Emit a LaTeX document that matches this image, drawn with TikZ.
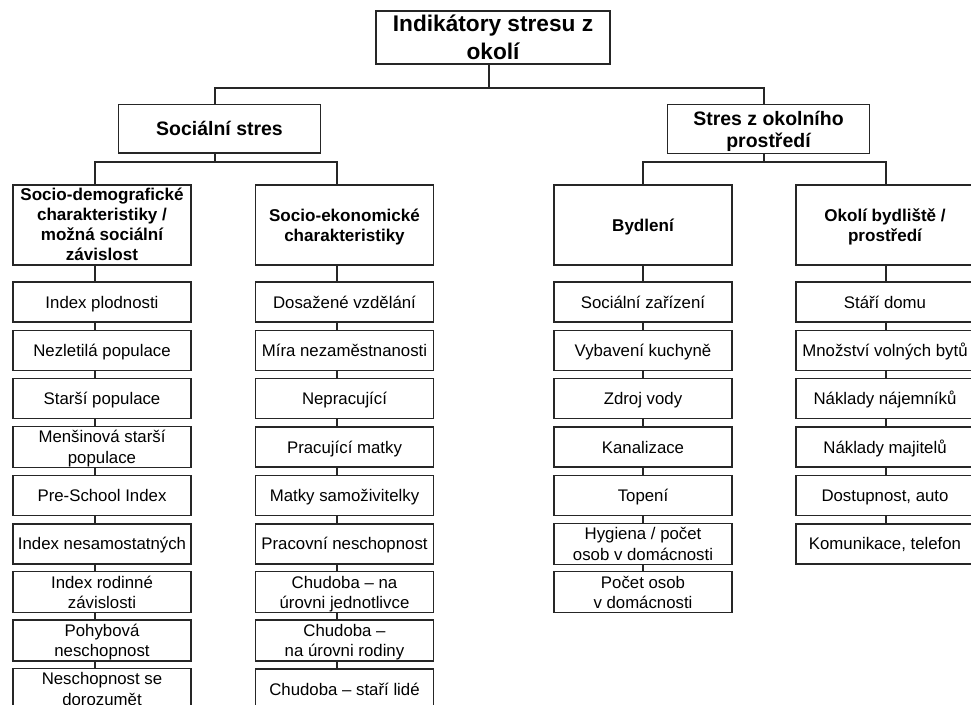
\documentclass[tikz,border=0pt]{standalone}
\usepackage{fontspec}
\setmainfont{Liberation Sans}
% struts that centre the capitals of a text block vertically,
% tall and deep enough to cover accents and descenders
\newcommand{\Lbl}[1]{\rule{0pt}{0.97em}#1\rule[-0.25em]{0pt}{0.25em}}
% slimmer version for blocks that fill their box
\newcommand{\LblSlim}[1]{\rule{0pt}{0.85em}#1\rule[-0.15em]{0pt}{0.15em}}
\begin{document}
\begin{tikzpicture}[x=0.75pt,y=-0.75pt,
  every node/.style={draw=black!85, line width=1pt, inner sep=0pt, align=center, fill=white},
  titlebox/.style={minimum width=175.5pt, minimum height=39.75pt,
    font=\fontsize{17}{21}\selectfont\bfseries},
  groupbox/.style={minimum width=151.5pt, minimum height=36.5pt,
    font=\fontsize{14.6}{16.5}\selectfont\bfseries},
  headbox/.style={minimum width=133.5pt, minimum height=60pt,
    font=\fontsize{12.8}{15}\selectfont\bfseries},
  itembox/.style={minimum width=133.5pt, minimum height=30pt,
    font=\fontsize{12.6}{15.4}\selectfont},
  link/.style={draw=black!85, line width=1pt}]
\useasboundingbox (0,0) rectangle (971,704);
\clip (0,0) rectangle (971,704);

% bus positions
\coordinate (j0) at (489,88);
\coordinate (sx) at (215,0);
\coordinate (ex) at (764,0);
\coordinate (j1) at (215,162);
\coordinate (j2) at (764,162);
\coordinate (x1) at (95,0);
\coordinate (x2) at (337,0);
\coordinate (x3) at (643,0);
\coordinate (x4) at (886,0);

% top levels
\node[titlebox] (top) at (493,37.5) {\LblSlim{Indikátory stresu z\\okolí}};
\node[groupbox] (soc) at (219.5,128.5) {\Lbl{Sociální stres}};
\node[groupbox] (env) at (768.5,129) {\Lbl{Stres z okolního\\prostředí}};

\node[headbox] (h1) at (102,225) {\LblSlim{Socio-demografické\\charakteristiky /\\možná sociální\\závislost}};
\node[headbox] (h2) at (344.5,225) {\Lbl{Socio-ekonomické\\charakteristiky}};
\node[headbox] (h3) at (643,225) {\Lbl{Bydlení}};
\node[headbox] (h4) at (885,225) {\Lbl{Okolí bydliště /\\prostředí}};

\draw[link] (top.south -| j0) -- (j0);
\draw[link] (soc.north -| sx) |- (j0);
\draw[link] (env.north -| ex) |- (j0);
\draw[link] (soc.south -| j1) -- (j1);
\draw[link] (h1.north -| x1) |- (j1);
\draw[link] (h2.north -| x2) |- (j1);
\draw[link] (env.south -| j2) -- (j2);
\draw[link] (h3.north -| x3) |- (j2);
\draw[link] (h4.north -| x4) |- (j2);

% column 1
\foreach \t [count=\i] in {{Index plodnosti},{Nezletilá populace},{Starší populace},
  {Menšinová starší\\populace},{Pre-School Index},{Index nesamostatných},
  {Index rodinné\\závislosti},{Pohybová\\neschopnost},{Neschopnost se\\dorozumět}}
  \node[itembox] (a\i) at (102,{302+48.375*(\i-1)}) {\Lbl{\t}};
% column 2
\foreach \t [count=\i] in {{Dosažené vzdělání},{Míra nezaměstnanosti},{Nepracující},
  {Pracující matky},{Matky samoživitelky},{Pracovní neschopnost},
  {Chudoba – na\\úrovni jednotlivce},{Chudoba –\\na úrovni rodiny},{Chudoba – staří lidé}}
  \node[itembox] (b\i) at (344.5,{302+48.375*(\i-1)}) {\Lbl{\t}};
% column 3
\foreach \t [count=\i] in {{Sociální zařízení},{Vybavení kuchyně},{Zdroj vody},
  {Kanalizace},{Topení},{Hygiena / počet\\osob v domácnosti},{Počet osob\\v domácnosti}}
  \node[itembox] (c\i) at (643,{302+48.375*(\i-1)}) {\Lbl{\t}};
% column 4
\foreach \t [count=\i] in {{Stáří domu},{Množství volných bytů},{Náklady nájemníků},
  {Náklady majitelů},{Dostupnost, auto},{Komunikace, telefon}}
  \node[itembox] (d\i) at (885,{302+48.375*(\i-1)}) {\Lbl{\t}};

% vertical chains
\draw[link] (h1.south -| x1) -- (a1.north -| x1);
\draw[link] (h2.south -| x2) -- (b1.north -| x2);
\draw[link] (h3.south -| x3) -- (c1.north -| x3);
\draw[link] (h4.south -| x4) -- (d1.north -| x4);
\foreach \i [remember=\i as \p (initially 1)] in {2,...,9} {
  \draw[link] (a\p.south -| x1) -- (a\i.north -| x1);
  \draw[link] (b\p.south -| x2) -- (b\i.north -| x2);
}
\foreach \i [remember=\i as \p (initially 1)] in {2,...,7}
  \draw[link] (c\p.south -| x3) -- (c\i.north -| x3);
\foreach \i [remember=\i as \p (initially 1)] in {2,...,6}
  \draw[link] (d\p.south -| x4) -- (d\i.north -| x4);
\end{tikzpicture}
\end{document}
